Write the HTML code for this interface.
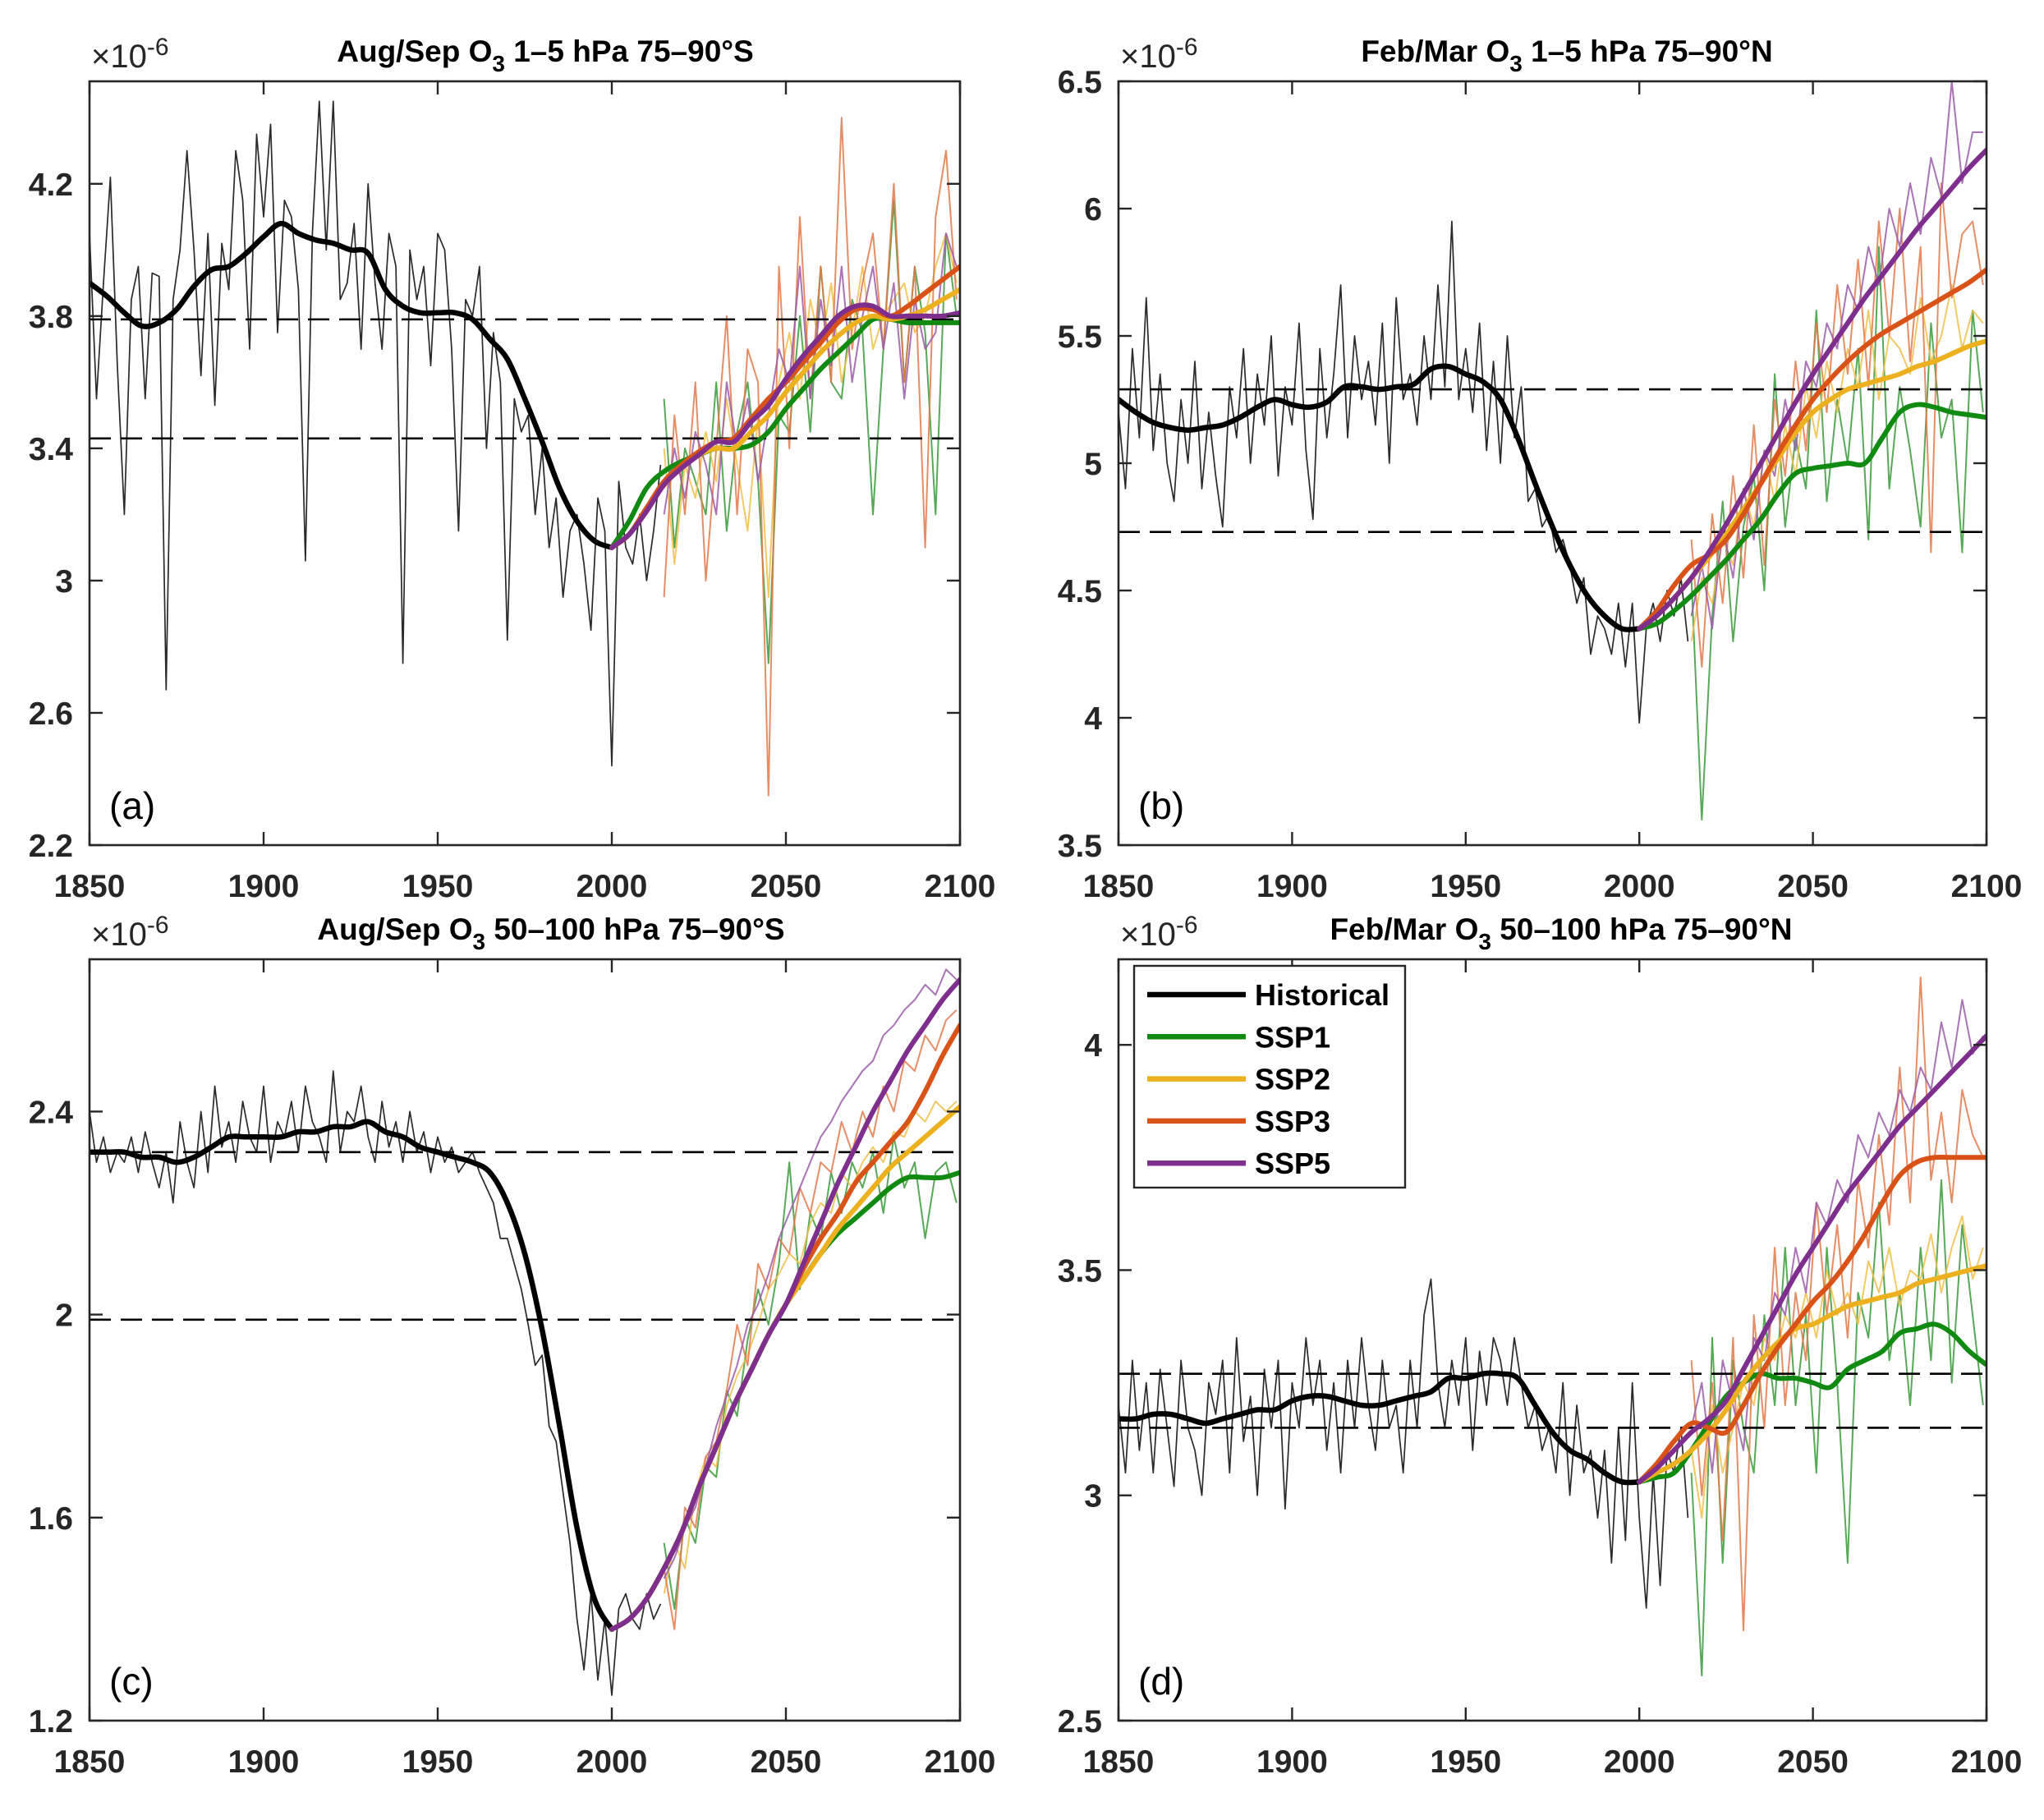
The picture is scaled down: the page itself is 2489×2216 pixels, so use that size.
<!DOCTYPE html>
<html><head><meta charset="utf-8"><style>
html,body{margin:0;padding:0;background:#fff;}
svg{display:block;font-family:"Liberation Sans",Arial,sans-serif;}
</style></head><body>
<svg id="fig" width="2489" height="2216" viewBox="0 0 2489 2216" xmlns="http://www.w3.org/2000/svg"></svg>
<script>
// ---------- DATA ----------
const xTicks = [1850,1900,1950,2000,2050,2100];
const aYTicks = [2.2,2.6,3,3.4,3.8,4.2];
const bYTicks = [3.5,4,4.5,5,5.5,6,6.5];
const cYTicks = [1.2,1.6,2,2.4];
const dYTicks = [2.5,3,3.5,4];
const aDashed = [3.79,3.43];
const bDashed = [5.29,4.73];
const cDashed = [2.32,1.99];
const dDashed = [3.27,3.15];
// smoothed historical, every 5 years 1850-2000
const aHistSmooth = [3.90,3.86,3.81,3.77,3.78,3.82,3.89,3.94,3.95,3.99,4.04,4.08,4.05,4.03,4.02,4.00,3.99,3.88,3.83,3.81,3.81,3.81,3.79,3.73,3.67,3.55,3.42,3.28,3.18,3.12,3.10];
const bHistSmooth = [5.25,5.20,5.16,5.14,5.13,5.14,5.15,5.18,5.22,5.25,5.23,5.22,5.24,5.30,5.30,5.29,5.30,5.31,5.37,5.38,5.35,5.32,5.25,5.10,4.92,4.75,4.60,4.48,4.40,4.35,4.35];
const cHistSmooth = [2.32,2.32,2.32,2.31,2.31,2.30,2.31,2.33,2.35,2.35,2.35,2.35,2.36,2.36,2.37,2.37,2.38,2.36,2.35,2.33,2.32,2.31,2.30,2.28,2.22,2.12,1.97,1.78,1.58,1.44,1.38];
const dHistSmooth = [3.17,3.17,3.18,3.18,3.17,3.16,3.17,3.18,3.19,3.19,3.21,3.22,3.22,3.21,3.20,3.20,3.21,3.22,3.23,3.26,3.26,3.27,3.27,3.26,3.20,3.14,3.10,3.08,3.05,3.03,3.03];
// smoothed scenarios, every 5 years 2000-2100
const aSsp1 = [3.10,3.18,3.28,3.33,3.36,3.38,3.40,3.40,3.41,3.45,3.52,3.58,3.64,3.69,3.74,3.79,3.79,3.78,3.78,3.78,3.78];
const aSsp2 = [3.10,3.14,3.22,3.29,3.34,3.38,3.40,3.40,3.45,3.50,3.57,3.63,3.69,3.74,3.78,3.80,3.79,3.80,3.82,3.85,3.88];
const aSsp3 = [3.10,3.14,3.22,3.30,3.35,3.39,3.42,3.43,3.49,3.55,3.60,3.66,3.72,3.78,3.82,3.82,3.80,3.83,3.87,3.91,3.95];
const aSsp5 = [3.10,3.14,3.21,3.29,3.34,3.38,3.42,3.42,3.48,3.53,3.61,3.68,3.74,3.80,3.83,3.83,3.80,3.80,3.80,3.80,3.81];
const bSsp1 = [4.35,4.37,4.42,4.48,4.55,4.62,4.70,4.78,4.88,4.96,4.98,4.99,5.00,5.00,5.10,5.20,5.23,5.22,5.20,5.19,5.18];
const bSsp2 = [4.35,4.40,4.47,4.55,4.63,4.72,4.82,4.92,5.02,5.12,5.20,5.25,5.29,5.31,5.33,5.35,5.38,5.40,5.43,5.46,5.48];
const bSsp3 = [4.35,4.42,4.52,4.60,4.64,4.70,4.80,4.92,5.04,5.15,5.25,5.33,5.40,5.46,5.51,5.55,5.59,5.63,5.67,5.71,5.76];
const bSsp5 = [4.35,4.40,4.47,4.55,4.65,4.76,4.88,5.00,5.12,5.24,5.35,5.45,5.55,5.65,5.74,5.83,5.92,6.00,6.08,6.16,6.23];
const cSsp1 = [1.38,1.40,1.44,1.50,1.57,1.66,1.74,1.82,1.89,1.96,2.02,2.07,2.12,2.16,2.19,2.22,2.25,2.27,2.27,2.27,2.28];
const cSsp2 = [1.38,1.40,1.44,1.50,1.57,1.66,1.74,1.82,1.89,1.96,2.02,2.07,2.12,2.17,2.21,2.25,2.29,2.32,2.35,2.38,2.41];
const cSsp3 = [1.38,1.40,1.44,1.50,1.57,1.66,1.74,1.82,1.89,1.96,2.02,2.09,2.15,2.20,2.26,2.30,2.34,2.38,2.44,2.51,2.57];
const cSsp5 = [1.38,1.40,1.44,1.50,1.57,1.66,1.74,1.82,1.89,1.96,2.02,2.10,2.18,2.26,2.33,2.40,2.46,2.52,2.57,2.62,2.66];
const dSsp1 = [3.03,3.04,3.05,3.10,3.16,3.22,3.25,3.27,3.26,3.26,3.25,3.24,3.28,3.30,3.32,3.36,3.37,3.38,3.36,3.32,3.29];
const dSsp2 = [3.03,3.05,3.07,3.10,3.14,3.19,3.25,3.30,3.34,3.37,3.38,3.40,3.42,3.43,3.44,3.45,3.47,3.48,3.49,3.50,3.51];
const dSsp3 = [3.03,3.07,3.12,3.16,3.15,3.14,3.20,3.27,3.33,3.38,3.43,3.47,3.52,3.58,3.65,3.71,3.74,3.75,3.75,3.75,3.75];
const dSsp5 = [3.03,3.06,3.10,3.14,3.17,3.21,3.28,3.35,3.42,3.49,3.55,3.61,3.67,3.72,3.77,3.82,3.86,3.90,3.94,3.98,4.02];
// raw historical, every 2 years 1850-2014
const aHistRaw = [4.05,3.55,3.90,4.22,3.65, 3.20,3.85,3.95,3.55,3.93, 3.92,2.67,3.85,4.00,4.30, 4.00,3.62,4.05,3.53,4.02, 3.88,4.30,4.15,3.70,4.35, 4.10,4.38,3.75,4.15,4.10, 3.88,3.06,4.05,4.45,4.00, 4.45,3.85,3.90,4.08,3.70, 4.20,3.90,3.70,4.05,3.95, 2.75,4.00,3.85,3.95,3.65, 4.05,4.00,3.70,3.15,3.85, 3.80,3.95,3.40,3.75,3.60, 2.82,3.55,3.45,3.50,3.20, 3.40,3.10,3.25,2.95,3.15, 3.20,3.05,2.85,3.25,3.15, 2.44,3.30,3.10,3.05,3.20, 3.00,3.15,3.35];
const bHistRaw = [5.20,4.90,5.45,5.10,5.65, 5.05,5.35,5.00,4.85,5.25, 5.00,5.40,4.90,5.20,4.95, 4.75,5.30,5.10,5.45,5.00, 5.35,5.15,5.50,4.95,5.30, 5.15,5.55,5.05,4.78,5.45, 5.10,5.35,5.70,5.10,5.50, 5.25,5.40,5.15,5.55,5.00, 5.65,5.25,5.35,5.15,5.50, 5.25,5.70,5.30,5.95,5.25, 5.45,5.20,5.55,5.05,5.40, 5.00,5.50,5.10,5.30,4.85, 4.90,4.75,4.80,4.65,4.70, 4.60,4.45,4.55,4.25,4.40, 4.35,4.25,4.45,4.20,4.45, 3.98,4.35,4.45,4.30,4.50, 4.40,4.55,4.30];
const cHistRaw = [2.40,2.30,2.35,2.28,2.32, 2.30,2.35,2.28,2.36,2.30, 2.25,2.32,2.22,2.38,2.30, 2.25,2.40,2.28,2.45,2.33, 2.38,2.30,2.42,2.35,2.32, 2.45,2.30,2.38,2.35,2.42, 2.32,2.45,2.38,2.35,2.30, 2.48,2.32,2.40,2.38,2.45, 2.35,2.30,2.42,2.33,2.38, 2.30,2.40,2.32,2.36,2.28, 2.35,2.30,2.33,2.28,2.30, 2.32,2.28,2.25,2.22,2.15, 2.15,2.10,2.05,1.98,1.90, 1.92,1.78,1.75,1.65,1.55, 1.40,1.30,1.45,1.28,1.40, 1.25,1.42,1.45,1.40,1.38, 1.45,1.40,1.43];
const dHistRaw = [3.20,3.05,3.30,3.10,3.25, 3.05,3.28,3.15,3.02,3.30, 3.15,3.10,3.00,3.25,3.18, 3.30,3.05,3.35,3.12,3.22, 3.00,3.28,3.15,3.30,2.97, 3.25,3.15,3.35,3.20,3.30, 3.10,3.25,3.05,3.30,3.15, 3.35,3.20,3.10,3.30,3.15, 3.20,3.05,3.30,3.15,3.40, 3.48,3.25,3.15,3.30,3.20, 3.35,3.10,3.32,3.20,3.35, 3.30,3.20,3.35,3.25,3.15, 3.20,3.10,3.15,3.05,3.25, 3.00,3.20,3.05,3.10,2.95, 3.10,2.85,3.15,2.90,3.25, 2.95,2.75,3.05,2.80,3.10, 3.05,3.15,2.95];
// raw scenarios, every 3 years 2015-2099
const aSsp1Raw = [3.55,3.10,3.40,3.30,3.20,3.60,3.15,3.45,3.60,3.30,2.75,3.50,3.45,3.80,3.45,3.95,3.60,3.55,3.85,3.75,3.20,3.70,4.15,3.60,3.95,3.75,3.20,4.05,3.80];
const aSsp2Raw = [3.40,3.05,3.35,3.25,3.45,3.30,3.55,3.35,3.15,3.50,2.95,3.60,3.75,3.55,3.85,3.70,3.90,3.60,3.75,3.95,3.70,3.80,3.85,3.90,3.75,3.80,3.95,4.05,3.90];
const aSsp3Raw = [2.95,3.50,3.20,3.60,3.00,3.40,3.80,3.20,3.70,3.60,2.35,3.95,3.40,4.10,3.55,3.95,3.60,4.40,3.70,3.90,4.05,3.70,4.20,3.60,3.95,3.10,4.10,4.30,3.85];
const aSsp5Raw = [3.20,3.40,3.25,3.45,3.35,3.20,3.60,3.40,3.55,3.30,3.50,3.70,3.60,3.95,3.55,3.85,3.65,3.95,3.60,3.80,3.95,3.70,3.90,3.55,3.85,3.70,3.75,4.05,3.95];
const bSsp1Raw = [4.55,3.60,4.40,4.85,4.30,4.75,4.95,4.50,5.35,4.75,5.10,4.90,5.60,4.85,5.25,5.00,5.45,4.70,5.85,4.90,5.30,5.05,4.75,5.55,5.10,5.25,4.65,5.60,5.20];
const bSsp2Raw = [4.30,4.55,4.45,4.70,4.60,4.90,4.75,5.05,4.85,5.15,4.95,5.30,5.10,5.40,5.20,5.45,5.30,5.60,5.25,5.50,5.45,5.35,5.65,5.40,5.50,5.70,5.45,5.60,5.55];
const bSsp3Raw = [4.70,4.20,4.80,4.45,4.95,4.55,5.15,4.60,5.25,4.95,5.40,5.05,5.55,5.20,5.70,5.35,5.80,5.30,5.95,5.50,6.00,5.40,5.85,4.65,6.10,5.65,5.90,5.95,5.70];
const bSsp5Raw = [4.40,4.60,4.35,4.75,4.55,4.90,4.70,5.05,4.95,5.25,5.05,5.40,5.30,5.55,5.45,5.70,5.60,5.85,5.70,6.00,5.85,6.10,5.90,6.20,6.05,6.50,6.10,6.30,6.30];
const cSsp1Raw = [1.55,1.42,1.60,1.55,1.70,1.68,1.85,1.80,1.95,2.05,1.98,2.10,2.30,2.05,2.20,2.15,2.28,2.20,2.30,2.25,2.32,2.20,2.35,2.25,2.30,2.15,2.28,2.30,2.22];
const cSsp2Raw = [1.45,1.55,1.50,1.65,1.72,1.70,1.82,1.88,1.92,1.98,2.05,2.08,2.12,2.10,2.18,2.22,2.20,2.28,2.25,2.30,2.33,2.30,2.36,2.35,2.40,2.38,2.42,2.40,2.42];
const cSsp3Raw = [1.50,1.38,1.62,1.58,1.72,1.75,1.85,1.98,1.90,2.10,2.05,2.15,2.12,2.25,2.20,2.30,2.28,2.38,2.32,2.40,2.35,2.45,2.40,2.50,2.48,2.55,2.52,2.58,2.60];
const cSsp5Raw = [1.48,1.52,1.58,1.62,1.70,1.78,1.84,1.90,1.98,2.02,2.08,2.15,2.20,2.25,2.30,2.35,2.38,2.42,2.45,2.48,2.50,2.55,2.57,2.60,2.62,2.65,2.63,2.68,2.66];
const dSsp1Raw = [3.05,2.60,3.35,2.85,3.30,3.15,3.05,3.40,3.20,3.55,3.20,3.40,3.05,3.55,3.25,2.85,3.45,3.35,3.65,3.30,3.45,3.20,3.55,3.30,3.70,3.25,3.60,3.40,3.20];
const dSsp2Raw = [3.10,2.95,3.20,3.05,3.15,3.25,3.20,3.35,3.30,3.40,3.35,3.45,3.35,3.50,3.40,3.45,3.38,3.52,3.45,3.55,3.42,3.50,3.48,3.58,3.45,3.55,3.62,3.48,3.55];
const dSsp3Raw = [3.30,3.00,3.25,2.90,3.35,2.70,3.40,3.15,3.55,3.20,3.45,3.30,3.65,3.40,3.60,3.35,3.70,3.55,3.80,3.60,3.95,3.65,4.15,3.70,3.85,3.65,3.90,3.80,3.75];
const dSsp5Raw = [3.15,3.25,3.05,3.30,3.20,3.10,3.35,3.30,3.45,3.40,3.55,3.45,3.65,3.60,3.70,3.65,3.80,3.75,3.85,3.80,3.90,3.85,3.95,3.90,4.05,3.95,4.10,3.98,4.02];
const legendLabels = ["Historical","SSP1","SSP2","SSP3","SSP5"];

// ---------- DRAW ----------
const NS = "http://www.w3.org/2000/svg";
const svg = document.getElementById('fig');
const COL = {hist:"#000000", ssp1:"#118a11", ssp2:"#edb120", ssp3:"#d95319", ssp5:"#7e2f8e"};
const RAWCOL = {hist:"#2a2a2a", ssp1:"#3a9a3a", ssp2:"#f0bf4a", ssp3:"#e2794a", ssp5:"#9a5aa8"};
function el(tag, attrs, parent){
  const e = document.createElementNS(NS, tag);
  for (const k in attrs) e.setAttribute(k, attrs[k]);
  (parent||svg).appendChild(e);
  return e;
}
function smoothPath(pts){
  let d = "M"+pts[0][0].toFixed(1)+","+pts[0][1].toFixed(1);
  for (let i=0;i<pts.length-1;i++){
    const p0=pts[Math.max(0,i-1)], p1=pts[i], p2=pts[i+1], p3=pts[Math.min(pts.length-1,i+2)];
    const c1=[p1[0]+(p2[0]-p0[0])/6, p1[1]+(p2[1]-p0[1])/6];
    const c2=[p2[0]-(p3[0]-p1[0])/6, p2[1]-(p3[1]-p1[1])/6];
    d+=" C"+c1[0].toFixed(1)+","+c1[1].toFixed(1)+" "+c2[0].toFixed(1)+","+c2[1].toFixed(1)+" "+p2[0].toFixed(1)+","+p2[1].toFixed(1);
  }
  return d;
}
function linePath(pts){ return pts.map((p,i)=>(i?"L":"M")+p[0].toFixed(1)+","+p[1].toFixed(1)).join(" "); }

function panel(id, box, ymin, ymax, yTicks, dashed, histRaw, histSmooth, raws, smooths, title, label, tickFmt, titleX){
  const {L,R,T,B} = box;
  const g = el('g', {});
  
  
  const xs = v => L + (v-1850)/(2100-1850)*(R-L);
  const ys = v => B - (v-ymin)/(ymax-ymin)*(B-T);
  const clipId = 'clip-'+id;
  const cp = el('clipPath', {id:clipId}, g);
  el('rect', {x:L, y:T, width:R-L, height:B-T}, cp);
  const plot = el('g', {'clip-path':'url(#'+clipId+')'}, g);
  const hr = el('path', {d:linePath(histRaw.map((v,i)=>[xs(1850+2*i), ys(v)])), fill:'none', stroke:RAWCOL.hist, 'stroke-width':1.7, 'stroke-linejoin':'round'}, plot);
  
  
  const keys = ['ssp1','ssp2','ssp3','ssp5'];
  keys.forEach((k,j)=>{
    const p = el('path', {d:linePath(raws[j].map((v,i)=>[xs(2015+3*i), ys(v)])), fill:'none', stroke:RAWCOL[k], 'stroke-width':2, 'stroke-opacity':0.85, 'stroke-linejoin':'round'}, plot);
    
    
  });
  dashed.forEach((v,i)=>{
    const dl = el('line', {x1:L, x2:R, y1:ys(v), y2:ys(v), stroke:'#000', 'stroke-width':2.6, 'stroke-dasharray':'26,12'}, plot);
    
    
  });
  const hs = el('path', {d:smoothPath(histSmooth.map((v,i)=>[xs(1850+5*i), ys(v)])), fill:'none', stroke:COL.hist, 'stroke-width':6.5, 'stroke-linecap':'round'}, plot);
  
  
  keys.forEach((k,j)=>{
    const p = el('path', {d:smoothPath(smooths[j].map((v,i)=>[xs(2000+5*i), ys(v)])), fill:'none', stroke:COL[k], 'stroke-width':6, 'stroke-linecap':'round'}, plot);
    
    
  });
  const ax = el('rect', {x:L, y:T, width:R-L, height:B-T, fill:'none', stroke:'#262626', 'stroke-width':2.6}, g);
  
  
  xTicks.forEach(t=>{
    const x = xs(t);
    el('line', {x1:x, x2:x, y1:B, y2:B-16, stroke:'#262626', 'stroke-width':2.4}, g);
    el('line', {x1:x, x2:x, y1:T, y2:T+16, stroke:'#262626', 'stroke-width':2.4}, g);
    const tx = el('text', {x:x, y:B+63, 'text-anchor':'middle', 'font-size':39, 'font-weight':'bold', fill:'#262626'}, g);
    tx.textContent = t;
    
    
  });
  yTicks.forEach(t=>{
    const y = ys(t);
    el('line', {x1:L, x2:L+16, y1:y, y2:y, stroke:'#262626', 'stroke-width':2.4}, g);
    el('line', {x1:R, x2:R-16, y1:y, y2:y, stroke:'#262626', 'stroke-width':2.4}, g);
    const ty = el('text', {x:L-20, y:y+14, 'text-anchor':'end', 'font-size':39, 'font-weight':'bold', fill:'#262626'}, g);
    ty.textContent = tickFmt(t);
    
    
  });
  const ex = el('text', {x:L+2, y:T-17, 'font-size':40, fill:'#262626'}, g);
  
  
  ex.innerHTML = '×10<tspan dy="-15" font-size="30">-6</tspan>';
  const ti = el('text', {x:titleX, y:T-24, 'text-anchor':'middle', 'font-size':37, 'font-weight':'bold', fill:'#000'}, g);
  
  
  ti.innerHTML = title[0]+'<tspan dy="12" font-size="28">3</tspan><tspan dy="-12"> '+title[1]+'</tspan>';
  const lb = el('text', {x:L+24, y:B-32, 'font-size':46, fill:'#000'}, g);
  lb.textContent = label;
  
  
  return {xs, ys};
}
const f1 = t => (Math.round(t*10)/10).toString();
panel('a', {L:109,R:1169,T:99,B:1029}, 2.2, 4.51, aYTicks, aDashed, aHistRaw, aHistSmooth,
  [aSsp1Raw,aSsp2Raw,aSsp3Raw,aSsp5Raw], [aSsp1,aSsp2,aSsp3,aSsp5], ['Aug/Sep O','1–5 hPa 75–90°S'], '(a)', f1, 664);
panel('b', {L:1362,R:2419,T:99,B:1029}, 3.5, 6.5, bYTicks, bDashed, bHistRaw, bHistSmooth,
  [bSsp1Raw,bSsp2Raw,bSsp3Raw,bSsp5Raw], [bSsp1,bSsp2,bSsp3,bSsp5], ['Feb/Mar O','1–5 hPa 75–90°N'], '(b)', f1, 1908);
panel('c', {L:109,R:1169,T:1168,B:2095}, 1.2, 2.70, cYTicks, cDashed, cHistRaw, cHistSmooth,
  [cSsp1Raw,cSsp2Raw,cSsp3Raw,cSsp5Raw], [cSsp1,cSsp2,cSsp3,cSsp5], ['Aug/Sep O','50–100 hPa 75–90°S'], '(c)', f1, 671);
panel('d', {L:1362,R:2419,T:1168,B:2095}, 2.5, 4.19, dYTicks, dDashed, dHistRaw, dHistSmooth,
  [dSsp1Raw,dSsp2Raw,dSsp3Raw,dSsp5Raw], [dSsp1,dSsp2,dSsp3,dSsp5], ['Feb/Mar O','50–100 hPa 75–90°N'], '(d)', f1, 1901);

const lg = el('g', {});


el('rect', {x:1381, y:1176, width:330, height:270, fill:'#fff', stroke:'#262626', 'stroke-width':2.4}, lg);
const lcols = [COL.hist, COL.ssp1, COL.ssp2, COL.ssp3, COL.ssp5];
legendLabels.forEach((name,i)=>{
  const y = 1211 + i*51.3;
  const e = el('g', {}, lg);
  
  
  el('line', {x1:1397, x2:1517, y1:y, y2:y, stroke:lcols[i], 'stroke-width':6.5}, e);
  const t = el('text', {x:1528, y:y+13, 'font-size':36, 'font-weight':'bold', fill:'#000'}, e);
  t.textContent = name;
});
</script>
</body></html>
